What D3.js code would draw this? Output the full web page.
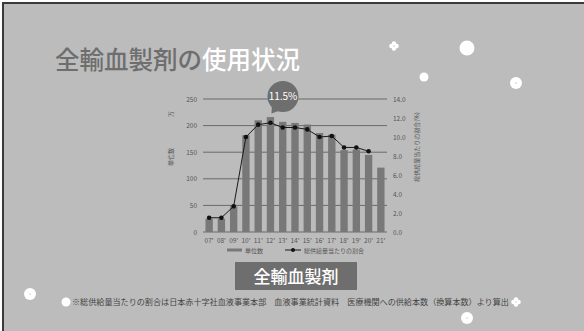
<!DOCTYPE html>
<html>
<head>
<meta charset="utf-8">
<script src="https://cdn.jsdelivr.net/npm/d3@7"></script>
<style>
  html, body { margin: 0; padding: 0; background: #ffffff; }
  svg { display: block; }
  text { font-family: "Noto Sans CJK JP", "Noto Sans", sans-serif; }
</style>
</head>
<body>
<svg id="chart" width="584" height="331"></svg>
<script>
// Fiscal years
const years = ["07'", "08'", "09'", "10'", "11'", "12'", "13'", "14'", "15'", "16'", "17'", "18'", "19'", "20'", "21'"];
// Units used (万単位)
const units = [25, 25, 48, 182, 210, 216, 207, 205, 202, 186, 183, 154, 155, 145, 121];
// Share of total supply (%); no value for 21'
const shares = [1.5, 1.5, 2.7, 10.0, 11.3, 11.5, 11.0, 11.0, 10.8, 10.0, 10.1, 8.9, 8.9, 8.5, null];
const leftTicks = [0, 50, 100, 150, 200, 250];
const rightTicks = [0, 2, 4, 6, 8, 10, 12, 14];
const peakLabel = "11.5%";

const svg = d3.select("#chart");

// slide background and frame
svg.append("rect").attr("x", 0).attr("y", 0).attr("width", 584).attr("height", 331).attr("fill", "#ffffff");
svg.append("rect").attr("x", 3).attr("y", 3).attr("width", 600).attr("height", 340)
  .attr("fill", "#bcbcbc").attr("stroke", "#3a3a3a").attr("stroke-width", 2);

// title
const title = svg.append("text").attr("x", 55).attr("y", 69)
  .attr("font-size", 24.5).attr("font-weight", 500);
title.append("tspan").attr("fill", "#6e6e6e").text("全輸血製剤の");
title.append("tspan").attr("fill", "#ffffff").text("使用状況");

// chart area
const x0 = 203, x1 = 387, yTop = 99, yBot = 232;
const x = d3.scaleBand().domain(years).range([x0, x1]).paddingInner(0.4).paddingOuter(0.2);
const yL = d3.scaleLinear().domain([0, 250]).range([yBot, yTop]);
const yR = d3.scaleLinear().domain([0, 14]).range([yBot, yTop]);

// gridlines
svg.append("g").selectAll("line").data(leftTicks).join("line")
  .attr("x1", x0).attr("x2", x1)
  .attr("y1", d => yL(d)).attr("y2", d => yL(d))
  .attr("stroke", "#6a6a6a").attr("stroke-width", 1);

// left axis
const gl = svg.append("g").attr("transform", `translate(${x0},0)`)
  .call(d3.axisLeft(yL).tickValues(leftTicks).tickSize(0).tickPadding(6));
gl.select(".domain").remove();
gl.selectAll("text").attr("font-size", 6.5).attr("fill", "#555").attr("font-family", "Liberation Sans, Arial, sans-serif");

// right axis
const gr = svg.append("g").attr("transform", `translate(${x1},0)`)
  .call(d3.axisRight(yR).tickValues(rightTicks).tickSize(0).tickPadding(6).tickFormat(d3.format(".1f")));
gr.select(".domain").remove();
gr.selectAll("text").attr("font-size", 6.5).attr("fill", "#555").attr("font-family", "Liberation Sans, Arial, sans-serif");

// bottom axis
const gb = svg.append("g").attr("transform", `translate(0,${yBot})`)
  .call(d3.axisBottom(x).tickSize(0).tickPadding(6));
gb.select(".domain").remove();
gb.selectAll("text").attr("font-size", 6.5).attr("fill", "#555").attr("font-family", "Liberation Sans, Arial, sans-serif");

// axis titles
svg.append("text").attr("transform", "translate(173,157) rotate(-90)")
  .attr("text-anchor", "middle").attr("font-size", 6).attr("fill", "#555").text("単位数");
svg.append("text").attr("transform", "translate(173,114) rotate(-90)")
  .attr("text-anchor", "middle").attr("font-size", 6).attr("fill", "#555").text("万");
svg.append("text").attr("transform", "translate(419,147) rotate(-90)")
  .attr("text-anchor", "middle").attr("font-size", 6).attr("fill", "#555").text("総供給量当たりの割合(%)");

// bars
svg.append("g").selectAll("rect").data(years).join("rect")
  .attr("x", d => x(d)).attr("width", x.bandwidth())
  .attr("y", (d, i) => yL(units[i])).attr("height", (d, i) => yBot - yL(units[i]))
  .attr("fill", "#787878");

// share line
const pts = years.map((d, i) => ({ year: d, v: shares[i] })).filter(p => p.v !== null);
const cx = d => x(d) + x.bandwidth() / 2;
svg.append("path").datum(pts)
  .attr("d", d3.line().x(p => cx(p.year)).y(p => yR(p.v)))
  .attr("fill", "none").attr("stroke", "#1a1a1a").attr("stroke-width", 1);
svg.append("g").selectAll("circle").data(pts).join("circle")
  .attr("cx", p => cx(p.year)).attr("cy", p => yR(p.v)).attr("r", 2.3)
  .attr("fill", "#111");

// peak callout bubble
const peakIdx = shares.indexOf(d3.max(shares.filter(v => v !== null)));
const px = cx(years[peakIdx]), py = yR(shares[peakIdx]);
const bx = px + 12.5, by = 96.5, br = 15.5;
svg.append("path")
  .attr("d", `M${bx - 11},${by + 9} L${px + 1},${by + 17} L${bx - 3},${by + 14} Z`)
  .attr("fill", "#6e6e6e");
svg.append("circle").attr("cx", bx).attr("cy", by).attr("r", br).attr("fill", "#6e6e6e");
svg.append("text").attr("x", bx).attr("y", by + 3.5).attr("text-anchor", "middle")
  .attr("font-size", 10).attr("fill", "#ffffff").attr("font-family", "Liberation Sans, Arial, sans-serif")
  .text(peakLabel);

// legend
const lg = svg.append("g");
lg.append("rect").attr("x", 227).attr("y", 248.5).attr("width", 15).attr("height", 3).attr("fill", "#787878");
lg.append("text").attr("x", 245).attr("y", 252.5).attr("font-size", 6).attr("fill", "#555").text("単位数");
lg.append("line").attr("x1", 285).attr("x2", 301).attr("y1", 250).attr("y2", 250).attr("stroke", "#1a1a1a");
lg.append("circle").attr("cx", 293).attr("cy", 250).attr("r", 2).attr("fill", "#111");
lg.append("text").attr("x", 304).attr("y", 252.5).attr("font-size", 6).attr("fill", "#555").text("総供給量当たりの割合");

// product label box
svg.append("rect").attr("x", 235).attr("y", 262).attr("width", 122).attr("height", 28).attr("fill", "#6e6e6e");
svg.append("text").attr("x", 296).attr("y", 282.5).attr("text-anchor", "middle")
  .attr("font-size", 17).attr("font-weight", 500).attr("fill", "#ffffff").text("全輸血製剤");

// footnote
svg.append("text").attr("x", 72).attr("y", 305).attr("font-size", 8.1).attr("fill", "#444")
  .text("※総供給量当たりの割合は日本赤十字社血液事業本部　血液事業統計資料　医療機関への供給本数（換算本数）より算出");

// decorative dots
const dots = [
  { x: 467, y: 48, r: 7.5, c: false },
  { x: 424, y: 77, r: 4.5, c: false },
  { x: 516, y: 83, r: 6, c: true },
  { x: 30, y: 294, r: 6, c: true },
  { x: 66, y: 302, r: 4.5, c: false },
  { x: 467, y: 318, r: 6, c: true }
];
const deco = svg.append("g");
dots.forEach(d => {
  deco.append("circle").attr("cx", d.x).attr("cy", d.y).attr("r", d.r).attr("fill", "#ffffff");
  if (d.c) deco.append("circle").attr("cx", d.x).attr("cy", d.y).attr("r", 0.7).attr("fill", "#bcbcbc");
});
// small four-petal flowers
[{ x: 394, y: 46 }, { x: 516, y: 302 }].forEach(f => {
  const g = deco.append("g").attr("transform", `translate(${f.x},${f.y})`);
  [[0, -2.6], [2.6, 0], [0, 2.6], [-2.6, 0]].forEach(o => {
    g.append("circle").attr("cx", o[0]).attr("cy", o[1]).attr("r", 2.2).attr("fill", "#ffffff");
  });
});
</script>
</body>
</html>
